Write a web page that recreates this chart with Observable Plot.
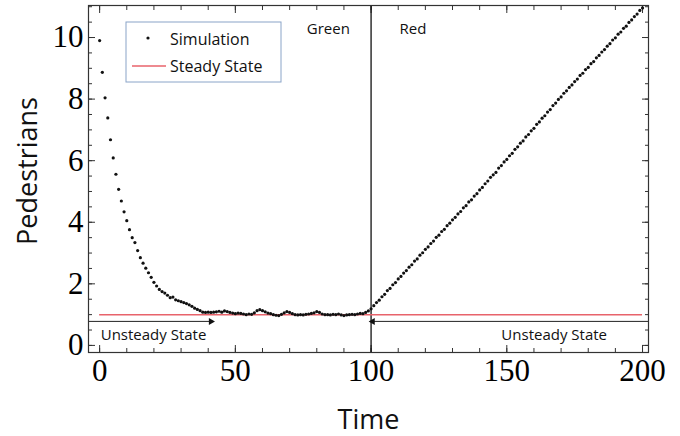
<!DOCTYPE html>
<html><head><meta charset="utf-8">
<script src="https://cdn.jsdelivr.net/npm/d3@7"></script>
<script src="https://cdn.jsdelivr.net/npm/@observablehq/plot@0.6"></script>
<style>body{margin:0;background:#fff}#chart{width:680px;height:436px}</style>
</head><body><div id="chart"></div>
<script>
const time = [0,1,2,3,4,5,6,7,8,9,10,11,12,13,14,15,16,17,18,19,20,21,22,23,24,25,26,27,28,29,30,31,32,33,34,35,36,37,38,39,40,41,42,43,44,45,46,47,48,49,50,51,52,53,54,55,56,57,58,59,60,61,62,63,64,65,66,67,68,69,70,71,72,73,74,75,76,77,78,79,80,81,82,83,84,85,86,87,88,89,90,91,92,93,94,95,96,97,98,99,100,101,102,103,104,105,106,107,108,109,110,111,112,113,114,115,116,117,118,119,120,121,122,123,124,125,126,127,128,129,130,131,132,133,134,135,136,137,138,139,140,141,142,143,144,145,146,147,148,149,150,151,152,153,154,155,156,157,158,159,160,161,162,163,164,165,166,167,168,169,170,171,172,173,174,175,176,177,178,179,180,181,182,183,184,185,186,187,188,189,190,191,192,193,194,195,196,197,198,199,200];
const pedestrians = [
9.90,8.87,8.04,7.39,6.68,6.09,5.56,5.07,4.69,4.34,4.05,3.76,3.50,3.34,3.08,2.85,2.67,2.51,2.36,2.21,2.05,1.93,1.82,1.75,1.70,1.63,1.55,1.57,1.48,1.45,
1.42,1.39,1.36,1.32,1.27,1.21,1.17,1.13,1.08,1.07,1.08,1.07,1.08,1.09,1.11,1.08,1.12,1.10,1.07,1.05,1.03,1.05,1.04,1.02,1.00,1.02,1.01,1.06,1.13,1.16,
1.13,1.09,1.05,1.03,1.00,0.98,0.97,1.01,1.06,1.10,1.07,1.03,1.00,0.99,1.00,0.99,1.01,1.02,1.04,1.06,1.10,1.07,1.02,1.00,1.00,0.99,1.01,1.00,1.02,0.99,
0.97,0.99,1.00,1.01,1.00,1.02,1.04,1.03,1.07,1.12,1.19,
1.29,1.39,1.47,1.58,1.66,1.78,1.85,1.97,2.04,2.16,2.24,2.35,2.43,2.54,2.62,2.74,2.81,2.93,3.01,3.12,3.20,3.31,3.39,3.51,3.58,3.70,3.77,3.89,3.97,4.08,
4.16,4.27,4.35,4.47,4.54,4.66,4.73,4.85,4.93,5.05,5.13,5.25,5.34,5.46,5.54,5.62,5.76,5.84,5.96,6.04,6.16,6.24,6.37,6.45,6.57,6.64,6.77,6.85,6.97,7.05,
7.18,7.26,7.38,7.46,7.58,7.66,7.79,7.87,7.99,8.07,8.19,8.27,8.38,8.46,8.57,8.65,8.77,8.84,8.96,9.03,9.15,9.22,9.34,9.42,9.53,9.61,9.72,9.80,9.92,9.99,
10.11,10.18,10.30,10.37,10.49,10.57,10.68,10.76,10.88,10.96];
const steadyState = 1.0;
const steadyStart = 0, steadyEnd = 200;
const signalChange = 100;
const phaseLabels = ["Green", "Red"];
const phaseLabelX = [76.3, 110.5];
const xMajorTicks = [0, 50, 100, 150, 200];
const xMinorTicks = [0,10,20,30,40,50,60,70,80,90,100,110,120,130,140,150,160,170,180,190,200];
const yMajorTicks = [0, 2, 4, 6, 8, 10];
const yMinorTicks = [0,0.5,1,1.5,2,2.5,3,3.5,4,4.5,5,5.5,6,6.5,7,7.5,8,8.5,9,9.5,10,10.5,11];
const arrowStart = [-4.1, 202.2];
const arrowEnd = [41, 100.6];
const arrowLevel = [0.78, 0.78];
const unsteadyText = ["Unsteady State", "Unsteady State"];
const unsteadyTextX = [0.4, 148];
const unsteadyTextY = [0.34, 0.32];
const legendLabels = ["Simulation", "Steady State"];

const points = time.map((t, i) => ({t, p: pedestrians[i]}));
const arrows = arrowStart.map((x1, i) => ({x1, x2: arrowEnd[i], y: arrowLevel[i], rot: x1 < arrowEnd[i] ? 90 : -90}));
const notes = unsteadyText.map((text, i) => ({text, x: unsteadyTextX[i], y: unsteadyTextY[i]}));
const phases = phaseLabels.map((text, i) => ({text, x: phaseLabelX[i]}));

const serif = "Liberation Serif";
const sans = "Open Sans";

const chart = Plot.plot({
  width: 680, height: 436,
  marginLeft: 88, marginRight: 32, marginTop: 5, marginBottom: 84,
  style: {fontFamily: sans, background: "#fff", color: "#000"},
  x: {domain: [-4.1, 202.2]},
  y: {domain: [-0.23, 11.04]},
  marks: [
    Plot.axisX(xMinorTicks, {anchor: "bottom", tickSize: -4, text: null, stroke: "#333"}),
    Plot.axisX(xMajorTicks, {anchor: "bottom", tickSize: -7, text: null, stroke: "#333"}),
    Plot.axisX(xMinorTicks, {anchor: "top", tickSize: -4, text: null, stroke: "#333"}),
    Plot.axisX(xMajorTicks, {anchor: "top", tickSize: -7, text: null, stroke: "#333"}),
    Plot.axisY(yMinorTicks, {anchor: "left", tickSize: -4, text: null, stroke: "#333"}),
    Plot.axisY(yMajorTicks, {anchor: "left", tickSize: -7, text: null, stroke: "#333"}),
    Plot.axisY(yMinorTicks, {anchor: "right", tickSize: -4, text: null, stroke: "#333"}),
    Plot.axisY(yMajorTicks, {anchor: "right", tickSize: -7, text: null, stroke: "#333"}),
    Plot.axisX(xMajorTicks, {anchor: "bottom", tickSize: 0, tickPadding: 6, fontSize: 31, fontFamily: serif, label: null, tickFormat: d => String(d)}),
    Plot.axisY(yMajorTicks, {anchor: "left", tickSize: 0, tickPadding: 5, fontSize: 31, fontFamily: serif, label: null, tickFormat: d => String(d)}),
    Plot.text(["Time"], {frameAnchor: "bottom", dy: 76, lineAnchor: "bottom", fontSize: 27, fill: "#111"}),
    Plot.text(["Pedestrians"], {frameAnchor: "left", textAnchor: "middle", dx: -60, dy: -8, rotate: -90, fontSize: 27, fill: "#111"}),
    Plot.ruleX([signalChange], {stroke: "#111", strokeWidth: 1.3}),
    Plot.text(phases, {x: "x", text: "text", frameAnchor: "top", dy: 18, textAnchor: "start", fontSize: 15, fill: "#111"}),
    Plot.ruleY([steadyState], {x1: steadyStart, x2: steadyEnd, stroke: "#e8636b", strokeWidth: 1.5}),
    Plot.link(arrows, {x1: "x1", x2: "x2", y1: "y", y2: "y", stroke: "#222", strokeWidth: 1}),
    Plot.dot(arrows, {x: "x2", y: "y", symbol: "triangle", rotate: "rot", r: 2.6, fill: "#111", stroke: "none"}),
    Plot.text(notes, {x: "x", y: "y", text: "text", textAnchor: "start", fontSize: 15, fill: "#111"}),
    Plot.dot(points, {x: "t", y: "p", r: 1.6, fill: "#111", stroke: "none"}),
    Plot.frame({stroke: "#333", strokeWidth: 1.2})
  ]
});

const svg = d3.select(chart);
const lg = svg.append("g").attr("font-family", sans).attr("font-size", 16).attr("text-anchor", "start");
lg.append("rect").attr("x", 126).attr("y", 22).attr("width", 155).attr("height", 60).attr("fill", "#fff").attr("stroke", "#8aa4c8");
lg.append("circle").attr("cx", 148).attr("cy", 38).attr("r", 1.6).attr("fill", "#111");
lg.append("line").attr("x1", 132).attr("x2", 166).attr("y1", 66).attr("y2", 66).attr("stroke", "#e8636b").attr("stroke-width", 1.5);
lg.selectAll("text.lbl").data(legendLabels).join("text").attr("class", "lbl")
  .attr("x", 170).attr("y", (d, i) => 39 + i * 27).attr("dy", "0.35em").attr("text-anchor", "start").attr("fill", "#111").text(d => d);

document.getElementById("chart").append(chart);
</script>
</body></html>
